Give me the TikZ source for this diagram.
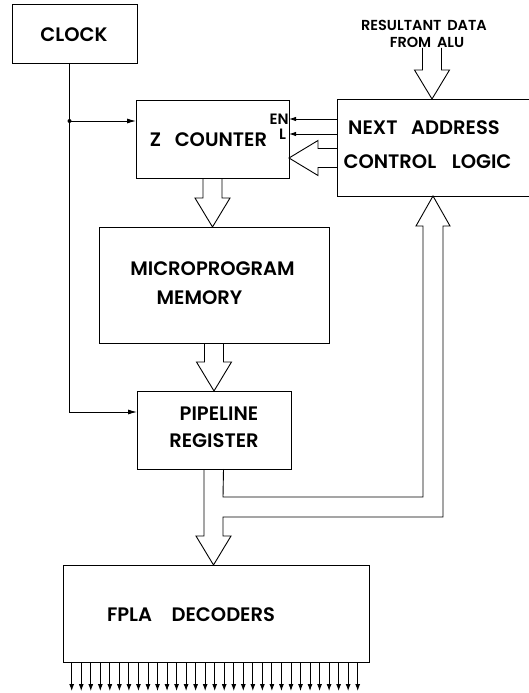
\documentclass[tikz,border=0pt]{standalone}
\usepackage{fontspec}
\setmainfont{Poppins}[BoldFont={Poppins SemiBold}]
\usetikzlibrary{calc,arrows.meta}
\newcommand\FatDown[2]{%
  \draw[fat] ($(#2|-#1)+(-9.5,0)$) -- ($(#2)+(-9.5,-29)$) -- ($(#2)+(-17.5,-29)$) -- (#2)
    -- ($(#2)+(17.5,-29)$) -- ($(#2)+(9.5,-29)$) -- ($(#2|-#1)+(9.5,0)$);}
\begin{document}
\begin{tikzpicture}[x=1pt,y=-1pt,line width=0.9pt,
  blk/.style={draw,inner sep=0pt,outer sep=0pt},
  lbl/.style={font=\bfseries\fontsize{19.5}{19.5}\selectfont,inner sep=0pt},
  small/.style={font=\bfseries\fontsize{14.5}{14.5}\selectfont,inner sep=0pt},
  pinl/.style={font=\bfseries\fontsize{15}{15}\selectfont,inner sep=0pt},
  sig/.style={-{Latex[length=9pt,width=5pt]}},
  pin/.style={-{Latex[length=7pt,width=4.5pt]}},
  outp/.style={-{Latex[length=7pt,width=5pt]}},
  fat/.style={line join=miter}]
\useasboundingbox (0,0) rectangle (529,693);

% blocks
\node[blk,minimum width=125pt,minimum height=59pt] (CLK) at (74.5,33.5) {};
\node[lbl] (tCLK) at (74,35) {CLOCK};
\node[blk,minimum width=153pt,minimum height=78pt] (ZC) at (212.5,139) {};
\node[lbl] (tZC) at (208.5,140) {Z\hspace{0.7em}COUNTER};
\node[pinl,anchor=east] (tEN) at (289,119) {EN};
\node[pinl,anchor=east] (tL) at (286.5,134) {L};
\begin{scope}
  \clip (0,0) rectangle (529,693);
  \node[blk,minimum width=223pt,minimum height=97pt] (NAC) at (448.5,147.5) {};
\end{scope}
\node[lbl] (tNAC1) at (424,128) {NEXT\hspace{0.7em}ADDRESS};
\node[lbl] (tNAC2) at (427.5,162) {CONTROL\hspace{0.8em}LOGIC};
\node[small] (tRES1) at (424,25) {RESULTANT\hspace{0.4em}DATA};
\node[small] (tRES2) at (427,42) {FROM\hspace{0.4em}ALU};
\node[blk,minimum width=230pt,minimum height=116pt] (MM) at (214,285) {};
\node[lbl] (tMM1) at (212.5,269) {MICROPROGRAM};
\node[lbl] (tMM2) at (199.5,298) {MEMORY};
\node[blk,minimum width=154pt,minimum height=78pt] (PR) at (214,430) {};
\node[lbl] (tPR1) at (219,414) {PIPELINE};
\node[lbl] (tPR2) at (214,441) {REGISTER};
\node[blk,minimum width=306pt,minimum height=97pt] (FP) at (216,613.5) {};
\node[lbl] (tFP) at (191,615) {FPLA\hspace{1em}DECODERS};

% clock lines
\coordinate (ck) at ($(CLK.south)+(-5,0)$);
\coordinate (zcin) at ($(ZC.north west)+(0,21)$);
\coordinate (prin) at ($(PR.north west)+(0,21)$);
\draw[sig] (ck) |- (prin);
\draw[sig] (ck|-zcin) -- (zcin);
\fill (ck|-zcin) circle (2);

% EN / L control lines
\draw[pin] (NAC.west|-tEN) -- (ZC.east|-tEN);
\draw[pin] (NAC.west|-tL) -- (ZC.east|-tL);

% fat arrows down
\coordinate (zcout) at (ZC.south);
\coordinate (mmin) at (ZC.south|-MM.north);
\FatDown{zcout}{mmin}
\coordinate (mmout) at (MM.south);
\coordinate (prtip) at (MM.south|-PR.north);
\FatDown{mmout}{prtip}
\coordinate (resin) at ($(NAC.north west)+(95,0)$);
\coordinate (resfree) at ($(resin)+(0,-51)$);
\FatDown{resfree}{resin}

% fat arrow NAC -> Z counter
\coordinate (zctip) at ($(ZC.east)+(0,19)$);
\draw[fat] ($(NAC.west|-zctip)+(0,-9.5)$) -- ($(zctip)+(29,-9.5)$) -- ($(zctip)+(29,-17.5)$)
  -- (zctip) -- ($(zctip)+(29,17.5)$) -- ($(zctip)+(29,9.5)$) -- ($(NAC.west|-zctip)+(0,9.5)$);

% bus from pipeline register to FPLA and back to next address logic
\coordinate (fptip) at ($(PR.south|-FP.north)+(-0.5,0)$);
\coordinate (nactip) at ($(NAC.south west)+(96,0)$);
\coordinate (busR1) at ($(fptip)+(9.5,-48)$);
\coordinate (busR2) at ($(fptip)+(9.5,-68)$);
\coordinate (nacR) at ($(nactip)+(10,30)$);
\coordinate (nacL) at ($(nactip)+(-10,30)$);
\draw[fat] ($(PR.south)+(-10,0)$) -- ($(fptip)+(-9.5,-29)$) -- ($(fptip)+(-17.5,-29)$) -- (fptip)
  -- ($(fptip)+(17.5,-29)$) -- ($(fptip)+(9.5,-29)$) -- (busR1)
  -- (nacR|-busR1) -- (nacR) -- ($(nactip)+(17,30)$) -- (nactip) -- ($(nactip)+(-17,30)$)
  -- (nacL) -- (nacL|-busR2) -- (busR2) -- ($(PR.south)+(9.5,0)$);

% decoder outputs
\foreach \i in {0,...,30}
  \draw[outp] ($(FP.south west)+(8.7+9.533*\i,0)$) -- ++(0,29);
\end{tikzpicture}
\end{document}
